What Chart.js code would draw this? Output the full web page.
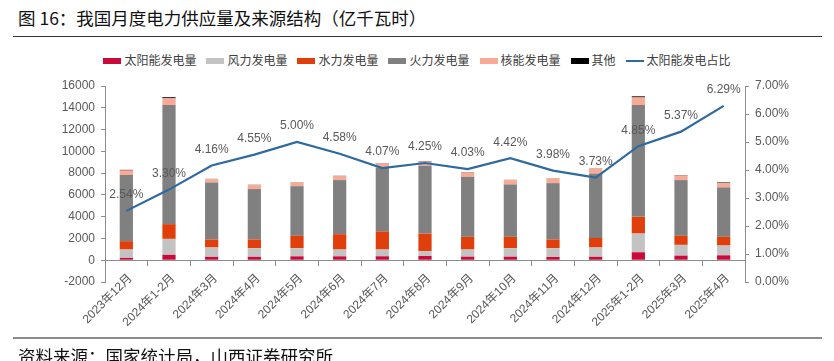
<!DOCTYPE html>
<html>
<head>
<meta charset="utf-8">
<script src="https://cdn.jsdelivr.net/npm/chart.js@4.4.1/dist/chart.umd.min.js"></script>
<style>
  body { margin: 0; background: #fff; font-family: "Noto Sans CJK SC", sans-serif; }
  #wrap { position: relative; width: 834px; height: 361px; overflow: hidden; }
  #title { position: absolute; left: 18px; top: 5px; font-size: 17.5px; color: #111; }
  #rule1 { position: absolute; left: 13px; top: 36px; width: 809px; height: 1px; background: #333; }
  #legend { position: absolute; left: 0; top: 51px; width: 834px; text-align: center; font-size: 12px; color: #404040; white-space: nowrap; }
  #legend span.item { display: inline-block; margin: 0 5px; }
  #legend i { display: inline-block; width: 18px; height: 6px; vertical-align: middle; margin-right: 3px; position: relative; top: -1px; }
  #legend i.ln { height: 2px; }
  #rule2 { position: absolute; left: 13px; top: 337px; width: 809px; height: 2px; background: #8c8c8c; }
  #source { position: absolute; left: 18px; top: 343px; font-size: 17.5px; color: #111; }
  canvas { position: absolute; left: 0; top: 0; }
</style>
</head>
<body>
<div id="wrap">
  <div id="title">图 16：我国月度电力供应量及来源结构（亿千瓦时）</div>
  <div id="rule1"></div>
  <div id="legend"></div>
  <canvas id="powerChart" width="834" height="361"></canvas>
  <div id="rule2"></div>
  <div id="source">资料来源：国家统计局，山西证券研究所</div>
</div>
<script>
const months = ['2023年12月', '2024年1-2月', '2024年3月', '2024年4月', '2024年5月', '2024年6月', '2024年7月',
    '2024年8月', '2024年9月', '2024年10月', '2024年11月', '2024年12月', '2025年1-2月', '2025年3月', '2025年4月'];

const solar   = [212, 494, 310, 314, 357, 355, 362, 387, 325, 325, 299, 314, 731, 420, 449];
const wind    = [771, 1466, 860, 790, 743, 625, 620, 440, 655, 775, 800, 856, 1720, 990, 900];
const hydro   = [764, 1350, 730, 800, 1140, 1410, 1660, 1620, 1170, 1050, 800, 880, 1530, 830, 800];
const thermal = [6069, 10940, 5240, 4630, 4560, 4970, 5880, 6230, 5510, 4810, 5180, 5920, 10270, 5120, 4540];
const nuclear = [424, 620, 310, 370, 340, 350, 370, 380, 370, 400, 430, 460, 700, 420, 400];
const other   = [60, 100, 20, 20, 20, 40, 30, 40, 30, 20, 20, 20, 100, 40, 50];
const solarShare = [2.54, 3.30, 4.16, 4.55, 5.00, 4.58, 4.07, 4.25, 4.03, 4.42, 3.98, 3.73, 4.85, 5.37, 6.29];

const barSeries = [
    { label: '太阳能发电量', data: solar, color: '#C90A3A' },
    { label: '风力发电量', data: wind, color: '#C3C3C3' },
    { label: '水力发电量', data: hydro, color: '#E03E0A' },
    { label: '火力发电量', data: thermal, color: '#808080' },
    { label: '核能发电量', data: nuclear, color: '#F9AA94' },
    { label: '其他', data: other, color: '#000000' }
];
const lineColor = '#2E6A9E';

// legend in html
const legend = document.getElementById('legend');
barSeries.forEach(s => {
    legend.innerHTML += '<span class="item"><i style="background:' + s.color + '"></i>' + s.label + '</span>';
});
legend.innerHTML += '<span class="item"><i class="ln" style="background:' + lineColor + '"></i>太阳能发电占比</span>';

const axisColor = '#8c8c8c';
const tickColor = '#595959';
const numFont = { family: 'Liberation Sans, Arial, sans-serif', size: 12 };

const pointLabels = {
    id: 'pointLabels',
    afterDatasetsDraw(chart) {
        const meta = chart.getDatasetMeta(6);
        const c = chart.ctx;
        c.save();
        c.font = '12px "Liberation Sans", Arial, sans-serif';
        c.fillStyle = tickColor;
        c.textAlign = 'center';
        c.textBaseline = 'middle';
        meta.data.forEach((pt, i) => {
            c.fillText(solarShare[i].toFixed(2) + '%', pt.x, pt.y - 16);
        });
        c.restore();
    }
};

const datasets = barSeries.map(s => ({
    type: 'bar',
    label: s.label,
    data: s.data,
    backgroundColor: s.color,
    yAxisID: 'y',
    barPercentage: 0.31,
    categoryPercentage: 1.0
}));
datasets.push({
    type: 'line',
    label: '太阳能发电占比',
    data: solarShare,
    borderColor: lineColor,
    borderWidth: 2.2,
    pointRadius: 0,
    tension: 0,
    yAxisID: 'y1',
    order: -1
});

new Chart(document.getElementById('powerChart'), {
    data: { labels: months, datasets: datasets },
    options: {
        responsive: false,
        animation: false,
        layout: { padding: { left: 60, right: 39, top: 86, bottom: 79 } },
        plugins: {
            legend: { display: false },
            tooltip: { enabled: false }
        },
        scales: {
            x: {
                stacked: true,
                position: { y: 0 },
                border: { color: axisColor },
                grid: { drawOnChartArea: false, color: axisColor, tickLength: 5, offset: true },
                ticks: {
                    color: tickColor,
                    autoSkip: false,
                    maxRotation: 45,
                    minRotation: 45,
                    padding: 6,
                    labelOffset: 4,
                    font: { family: 'Liberation Sans, "Noto Sans CJK SC", sans-serif', size: 12 }
                }
            },
            y: {
                stacked: true,
                position: 'left',
                min: -2000,
                max: 16000,
                afterFit(scale) { scale.width = 45; },
                border: { color: axisColor },
                grid: { drawOnChartArea: false, color: axisColor, tickLength: 4 },
                ticks: { stepSize: 2000, color: tickColor, padding: 6, font: numFont, callback: v => String(v) }
            },
            y1: {
                position: 'right',
                min: 0,
                max: 7,
                afterFit(scale) { scale.width = 50; },
                border: { color: axisColor },
                grid: { drawOnChartArea: false, color: axisColor, tickLength: 4 },
                ticks: {
                    stepSize: 1,
                    color: tickColor,
                    padding: 6,
                    font: numFont,
                    callback: v => v.toFixed(2) + '%'
                }
            }
        }
    },
    plugins: [pointLabels]
});
</script>
</body>
</html>
